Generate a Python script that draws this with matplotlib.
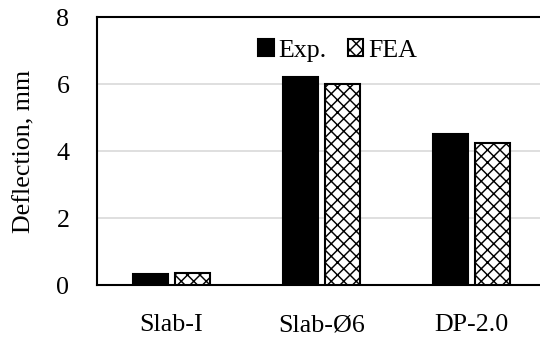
import numpy as np
import matplotlib
matplotlib.use("Agg")
import matplotlib.pyplot as plt

# deflection at peak, mm
specimens = ["Slab-I", "Slab-Ø6", "DP-2.0"]
exp_vals = [0.33, 6.2, 4.5]
fea_vals = [0.35, 6.0, 4.25]

plt.rcParams["font.family"] = ["Liberation Serif", "DejaVu Serif"]
plt.rcParams["hatch.linewidth"] = 0.7

fig = plt.figure(figsize=(3.6, 2.2467), dpi=150)
ax = fig.add_axes([96.5 / 540, 1 - 285 / 337, 450 / 540, 268 / 337])

x = np.arange(len(specimens))
w = 0.233
off = 0.14
ax.bar(x - off, exp_vals, w, color="black", edgecolor="black", linewidth=1.0,
       label="Exp.", zorder=3)
ax.bar(x + off, fea_vals, w, color="white", edgecolor="black", linewidth=1.0,
       hatch="xxxx", label="FEA", zorder=3)

ax.set_xlim(-0.5, 2.5)
ax.set_ylim(0, 8)
ax.set_yticks([0, 2, 4, 6, 8])
ax.set_xticks(x)
ax.set_xticklabels(specimens)
ax.tick_params(axis="both", length=0, labelsize=12.5)
ax.tick_params(axis="x", pad=14)
ax.tick_params(axis="y", pad=13)
ax.yaxis.grid(True, color="#d9d9d9", linewidth=0.8, zorder=0)
ax.set_axisbelow(True)
for s in ["left", "top", "bottom"]:
    ax.spines[s].set_linewidth(1.0)
ax.spines["right"].set_visible(False)

ax.set_ylabel("Deflection, mm", fontsize=12.5, labelpad=10)

ax.legend(loc="center", bbox_to_anchor=(0.536, 0.875), ncol=2, frameon=False,
          fontsize=12.5, handlelength=0.6, handleheight=0.6, handletextpad=0.2,
          columnspacing=0.8)

fig.savefig("out.png", dpi=150)
